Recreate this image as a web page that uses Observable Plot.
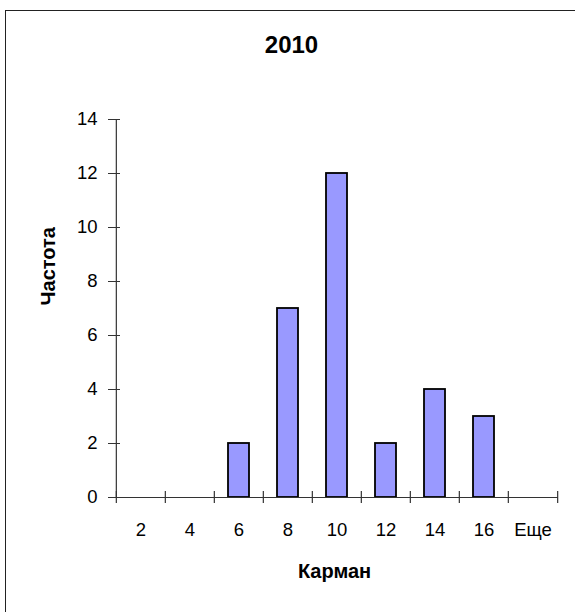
<!DOCTYPE html>
<html>
<head>
<meta charset="utf-8">
<script src="https://cdn.jsdelivr.net/npm/d3@7"></script>
<script src="https://cdn.jsdelivr.net/npm/@observablehq/plot@0.6"></script>
<style>
  html, body { margin: 0; padding: 0; background: #fff; }
  #wrap { position: relative; width: 575px; height: 612px; overflow: hidden; background: #fff; }
  #border { position: absolute; left: 5px; top: 10px; width: 620px; height: 660px; border: 1.5px solid #222; box-sizing: border-box; }
  #chart { position: absolute; left: 0; top: 0; }
</style>
</head>
<body>
<div id="wrap"><div id="border"></div><div id="chart"></div></div>
<script>
const title = "2010";
const xLabel = "Карман";
const yLabel = "Частота";
const categories = ["2", "4", "6", "8", "10", "12", "14", "16", "Еще"];
const frequencies = [0, 0, 2, 7, 12, 2, 4, 3, 0];
const yTicks = [0, 2, 4, 6, 8, 10, 12, 14];

const data = categories.map((c, i) => ({bin: c, freq: frequencies[i]}));

const W = 575, H = 612;
const ml = 114, mr = 17, mt = 119, mb = 115;
const step = (W - ml - mr) / categories.length;
const pInner = 0.58;
const tickHalf = 6 / ((H - mt - mb) / 14); // 6px in data units
const FS = 18.5;

const plot = Plot.plot({
  width: W,
  height: H,
  marginLeft: ml,
  marginRight: mr,
  marginTop: mt,
  marginBottom: mb,
  style: {fontFamily: "Arial, 'Liberation Sans', sans-serif", fontSize: FS + "px", color: "#000", background: "transparent", overflow: "visible"},
  x: {type: "band", domain: categories, paddingInner: pInner, paddingOuter: pInner / 2, label: null},
  y: {domain: [0, 14], label: null},
  marks: [
    Plot.barY(data, {x: "bin", y: "freq", fill: "#9999FF", stroke: "#000", strokeWidth: 1.8}),
    Plot.ruleY([0], {stroke: "#333", strokeWidth: 1.2}),
    // y axis line
    Plot.ruleX([categories[0]], {y1: 0, y2: 14, dx: -step / 2, stroke: "#333", strokeWidth: 1.2}),
    // x boundary ticks
    Plot.ruleX(categories, {y1: -tickHalf, y2: tickHalf, dx: -step / 2, stroke: "#333", strokeWidth: 1.2}),
    Plot.ruleX([categories[categories.length - 1]], {y1: -tickHalf, y2: tickHalf, dx: step / 2, stroke: "#333", strokeWidth: 1.2}),
    Plot.axisY({ticks: yTicks, tickSize: 12, dx: 6, tickPadding: 11, tickFormat: d => String(d), label: null, stroke: "#333", fontSize: FS, fill: "#000"}),
    Plot.axisX({tickSize: 0, tickPadding: 25, label: null, fontSize: FS, fill: "#000"}),
    Plot.text([title], {text: d => d, frameAnchor: "top", dx: -45, dy: 52 - mt, lineAnchor: "bottom", fontSize: 24, fontWeight: "bold"}),
    Plot.text([xLabel], {text: d => d, frameAnchor: "bottom", dx: -2, dy: 577 - (H - mb), lineAnchor: "bottom", fontSize: 20, fontWeight: "bold"}),
    Plot.text([yLabel], {text: d => d, frameAnchor: "left", dx: 54 - ml, dy: -3, rotate: -90, lineAnchor: "bottom", fontSize: 20, fontWeight: "bold"})
  ]
});
document.getElementById("chart").appendChild(plot);
</script>
</body>
</html>
